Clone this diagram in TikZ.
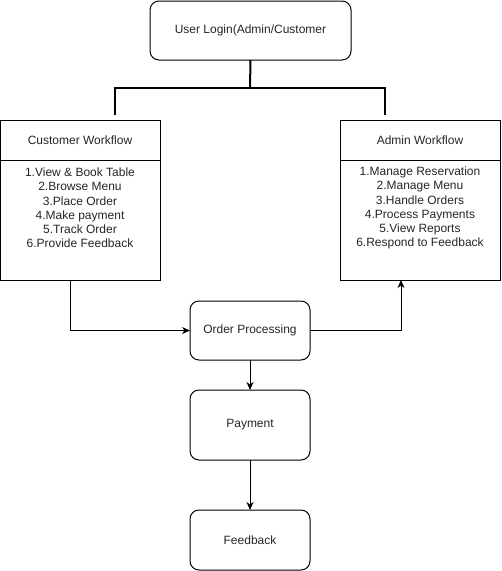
\documentclass[tikz,border=0pt]{standalone}
\usepackage{fontspec}
\setmainfont{Liberation Sans}
\usetikzlibrary{arrows.meta}
\begin{document}
\begin{tikzpicture}[x=1pt,y=-1pt,
  every node/.style={font=\fontsize{12}{14.2}\selectfont, inner sep=0pt, outer sep=0pt, text=black!85},
  rbox/.style={draw=black, line width=1pt, rounded corners=9pt, minimum width=#1, fill=white},
  sqbox/.style={draw=black, line width=1pt, minimum width=160pt, fill=white},
  listtext/.style={align=center},
  arr/.style={draw=black, line width=1pt, -{Stealth[length=8pt,width=7pt,inset=2.5pt]}},
  bus/.style={draw=black, line width=2pt}]
\useasboundingbox (0,0) rectangle (502,571);
% main boxes
\node[rbox=201pt, minimum height=59pt] (login) at (250.5,30.5) {User Login(Admin/Customer};
\node[sqbox, minimum height=40pt] (custhead) at (80,140) {Customer Workflow};
\node[sqbox, minimum height=120pt] (custbody) at (80,220) {};
\node[listtext] (custlist) at (80,208) {1.View \& Book Table\\2.Browse Menu\\3.Place Order\\4.Make payment\\5.Track Order\\6.Provide Feedback};
\node[sqbox, minimum height=40pt] (adminhead) at (420,140) {Admin Workflow};
\node[sqbox, minimum height=120pt] (adminbody) at (420,220) {};
\node[listtext] (adminlist) at (420,208) {1.Manage Reservation\\2.Manage Menu\\3.Handle Orders\\4.Process Payments\\5.View Reports\\6.Respond to Feedback};
\node[rbox=120pt, minimum height=59pt] (op) at (250,330.5) {Order Processing};
\node[rbox=120pt, minimum height=70pt] (pay) at (250,425) {Payment};
\node[rbox=120pt, minimum height=60pt] (fb) at (250,540) {Feedback};
% bus
\coordinate (busc) at (250,88);
\draw[bus] (login.south) -- (busc);
\draw[bus] ([xshift=35pt,yshift=5pt]custhead.north) |- (busc) -| ([xshift=-35pt,yshift=5pt]adminhead.north);
% arrows
\draw[arr] ([xshift=-9.5pt]custbody.south) |- (op.west);
\draw[arr] (op.east) -| ([xshift=-19pt]adminbody.south);
\draw[arr] (op.south) -- (pay.north);
\draw[arr] (pay.south) -- (fb.north);
\end{tikzpicture}
\end{document}
